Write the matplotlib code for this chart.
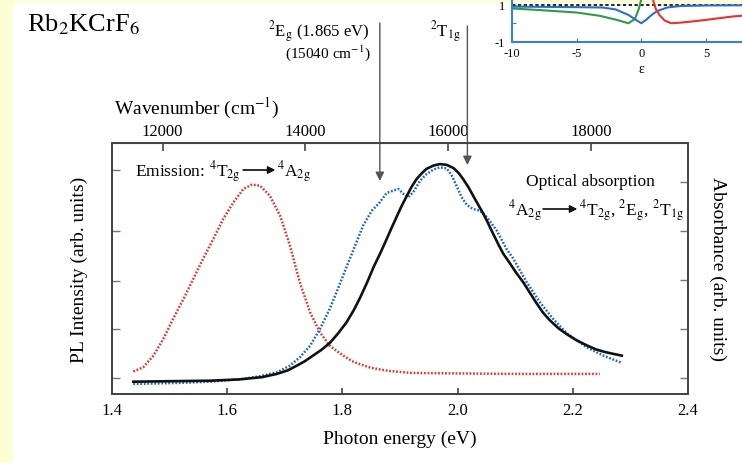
import numpy as np
import matplotlib
matplotlib.use("Agg")
from matplotlib import pyplot as plt
from matplotlib.patches import Rectangle

plt.rcParams['font.family'] = ['Liberation Serif', 'DejaVu Serif']
plt.rcParams['mathtext.fontset'] = 'stix'
plt.rcParams['axes.unicode_minus'] = False

# PL emission (red dots)
pl_energy = [1.437, 1.454, 1.472, 1.489, 1.506, 1.524, 1.541, 1.558, 1.576, 1.593,
             1.611, 1.628, 1.643, 1.657, 1.674, 1.692, 1.709, 1.726, 1.744, 1.761,
             1.778, 1.800, 1.820, 1.850, 1.880, 1.920, 2.000, 2.100, 2.247]
pl_intensity = [0.090, 0.106, 0.153, 0.219, 0.299, 0.378, 0.458, 0.538, 0.618, 0.697,
                0.764, 0.817, 0.834, 0.830, 0.790, 0.710, 0.591, 0.445, 0.325, 0.246,
                0.192, 0.155, 0.127, 0.104, 0.092, 0.084, 0.082, 0.080, 0.080]

# optical absorption (blue dots)
abs_energy = [1.437, 1.512, 1.570, 1.628, 1.657, 1.686, 1.709, 1.726, 1.744, 1.761,
              1.778, 1.792, 1.807, 1.822, 1.836, 1.851, 1.865, 1.877, 1.888, 1.897,
              1.906, 1.914, 1.923, 1.935, 1.946, 1.958, 1.969, 1.981, 1.990, 1.998,
              2.007, 2.016, 2.027, 2.039, 2.051, 2.068, 2.085, 2.097, 2.120, 2.143,
              2.166, 2.189, 2.224, 2.253, 2.285]
absorbance = [0.040, 0.044, 0.049, 0.060, 0.071, 0.086, 0.113, 0.146, 0.192, 0.259,
              0.339, 0.418, 0.505, 0.591, 0.671, 0.730, 0.764, 0.801, 0.810, 0.817,
              0.797, 0.784, 0.804, 0.850, 0.876, 0.894, 0.903, 0.899, 0.870, 0.830,
              0.784, 0.753, 0.737, 0.730, 0.704, 0.651, 0.578, 0.538, 0.445, 0.365,
              0.299, 0.243, 0.186, 0.153, 0.124]

# fitted band (black line)
fit_energy = [1.437, 1.500, 1.570, 1.620, 1.660, 1.686, 1.705, 1.721, 1.735, 1.749,
              1.763, 1.778, 1.792, 1.807, 1.820, 1.831, 1.843, 1.854, 1.866, 1.877,
              1.886, 1.894, 1.903, 1.912, 1.920, 1.929, 1.938, 1.946, 1.958, 1.969,
              1.981, 1.993, 2.002, 2.010, 2.019, 2.027, 2.036, 2.045, 2.053, 2.062,
              2.071, 2.079, 2.091, 2.102, 2.114, 2.125, 2.137, 2.148, 2.160, 2.175,
              2.189, 2.205, 2.224, 2.240, 2.253, 2.270, 2.285]
fit_absorbance = [0.049, 0.051, 0.053, 0.058, 0.067, 0.080, 0.094, 0.113, 0.131, 0.153,
                  0.175, 0.203, 0.240, 0.285, 0.335, 0.385, 0.445, 0.505, 0.562, 0.618,
                  0.665, 0.705, 0.750, 0.790, 0.825, 0.857, 0.880, 0.897, 0.910, 0.916,
                  0.913, 0.900, 0.880, 0.855, 0.823, 0.790, 0.753, 0.717, 0.680, 0.637,
                  0.595, 0.560, 0.520, 0.482, 0.445, 0.405, 0.362, 0.325, 0.294, 0.262,
                  0.239, 0.216, 0.194, 0.178, 0.169, 0.160, 0.153]

x_ticks = [1.4, 1.6, 1.8, 2.0, 2.2, 2.4]
wn_ticks = [12000, 14000, 16000, 18000]
pl_ticks = [0.064, 0.259, 0.450, 0.649, 0.892]
abs_ticks = [0.064, 0.259, 0.454, 0.649, 0.845]
level_eg = 1.865
level_t1g = 2.017

# inset: eps vs ratio
eps_green = [-10, -7.85, -5, -3.2, -1.9, -1.0, -0.5, -0.2, 0.0]
val_green = [0.80, 0.71, 0.58, 0.40, 0.18, 0.0, 0.22, 0.76, 1.30]
eps_blue = [-10, -5, -3, -2, -1.5, -1.0, -0.5, 0.0, 0.4, 0.8, 1.2, 2, 3, 5, 10]
val_blue = [0.90, 0.87, 0.85, 0.75, 0.60, 0.45, 0.22, 0.0, 0.20, 0.45, 0.65, 0.85, 0.93, 0.96, 0.98]
eps_red = [0.9, 1.1, 1.4, 1.8, 2.3, 3, 4, 5, 6, 7, 8, 10]
val_red = [1.30, 0.80, 0.45, 0.15, 0.0, 0.03, 0.10, 0.18, 0.27, 0.36, 0.42, 0.52]

W, H = 742, 464
def fx(px):
    return px / W
def fy(py):
    return 1 - py / H

fig = plt.figure(figsize=(7.42, 4.64), dpi=100)
fig.patch.set_facecolor('#fefed6')
fig.add_artist(Rectangle((fx(13), 0), 1, fy(4), transform=fig.transFigure,
                         facecolor='white', edgecolor='none', zorder=-10))

spine_c = '#444444'
ax = fig.add_axes([fx(112), fy(395), (688 - 112) / W, (395 - 144) / H])
ax.patch.set_alpha(0)
ax2 = ax.twinx()

ax.plot(pl_energy, pl_intensity, color='#e8332c', lw=1.8, dashes=(0.7, 0.7))
ax2.plot(abs_energy, absorbance, color='#1d63c4', lw=1.8, dashes=(0.7, 0.7))
ax2.plot(fit_energy, fit_absorbance, color='#111111', lw=1.9)

for a in (ax, ax2):
    a.set_xlim(1.4, 2.4)
    a.set_ylim(0, 1)
    for s in a.spines.values():
        s.set_color(spine_c)
        s.set_linewidth(1.3)

ax.set_xticks(x_ticks)
ax.set_xticklabels(['%.1f' % v for v in x_ticks])
ax.set_yticks(pl_ticks)
ax.set_yticklabels([])
ax2.set_yticks(abs_ticks)
ax2.set_yticklabels([])
ax.tick_params(axis='x', direction='in', length=4, width=1.2, color=spine_c,
               labelsize=12, pad=6)
ax.tick_params(axis='y', direction='in', length=6, width=1.0, color='#777777')
ax2.tick_params(axis='y', direction='in', length=6, width=1.0, color='#777777')

ev_per_wn = 1.23984e-4
top = ax.secondary_xaxis('top', functions=(lambda e: e / ev_per_wn, lambda n: n * ev_per_wn))
top.set_xticks(wn_ticks)
top.tick_params(direction='in', length=6, width=1.2, color=spine_c, labelsize=12, pad=3)
top.spines['top'].set_color(spine_c)

ax.set_xlabel('Photon energy (eV)', fontsize=14, labelpad=8)
ax.set_ylabel('PL Intensity (arb. units)', fontsize=14, labelpad=14)
ax2.set_ylabel('Absorbance (arb. units)', fontsize=14, rotation=270, labelpad=24)

fig.text(fx(114), fy(114), 'Wavenumber (cm$^{\\mathrm{-1}}$)', fontsize=14, va='baseline')
fig.text(fx(27), fy(31), 'Rb$_{\\mathrm{2}}$KCrF$_{\\mathrm{6}}$', fontsize=19, va='baseline')

# level markers
fig.text(fx(369), fy(37), '$^{\\mathrm{2}}$E$_{\\mathrm{g}}$ (1.865 eV)', fontsize=12,
         ha='right', va='baseline')
fig.text(fx(371), fy(58), '(15040 cm$^{\\mathrm{-1}}$)', fontsize=11, ha='right', va='baseline')
fig.text(fx(430), fy(37), '$^{\\mathrm{2}}$T$_{\\mathrm{1g}}$', fontsize=12, va='baseline')
arrow_kw = dict(arrowstyle='-|>', color='#555555', lw=1.0, mutation_scale=13,
                shrinkA=0, shrinkB=0)
ax.annotate('', xy=(level_eg, (395 - 182) / 251), xytext=(level_eg, fy(24)),
            textcoords=('data', 'figure fraction'), arrowprops=arrow_kw, annotation_clip=False)
ax.annotate('', xy=(level_t1g, (395 - 166) / 251), xytext=(level_t1g, fy(27)),
            textcoords=('data', 'figure fraction'), arrowprops=arrow_kw, annotation_clip=False)

# emission label
fig.text(fx(135), fy(177), 'Emission: $^{\\mathrm{4}}$T$_{\\mathrm{2g}}$', fontsize=12.5, va='baseline')
fig.text(fx(277), fy(177), '$^{\\mathrm{4}}$A$_{\\mathrm{2g}}$', fontsize=12.5, va='baseline')
small_arrow = dict(arrowstyle='-|>', color='#111111', lw=0.9, mutation_scale=11,
                   shrinkA=0, shrinkB=0)
fig.add_artist(plt.annotate('', xy=(fx(275), fy(171)), xytext=(fx(243), fy(171)),
                            xycoords='figure fraction', arrowprops=small_arrow))

# absorption label
fig.text(fx(590), fy(186), 'Optical absorption', fontsize=12.5, ha='center', va='baseline')
fig.text(fx(508), fy(216), '$^{\\mathrm{4}}$A$_{\\mathrm{2g}}$', fontsize=12.5, va='baseline')
fig.text(fx(579), fy(216),
         '$^{\\mathrm{4}}$T$_{\\mathrm{2g}}$, $^{\\mathrm{2}}$E$_{\\mathrm{g}}$, $^{\\mathrm{2}}$T$_{\\mathrm{1g}}$',
         fontsize=12.5, va='baseline')
fig.add_artist(plt.annotate('', xy=(fx(577), fy(210)), xytext=(fx(543), fy(210)),
                            xycoords='figure fraction', arrowprops=small_arrow))

# inset (cut by the figure edge)
in_c = '#3d7fd6'
axin = fig.add_axes([fx(512), fy(42.7), 258.6 / W, 42.5 / H])
axin.patch.set_alpha(0)
axin.set_xlim(-10, 10)
axin.set_ylim(-1, 1.3)
axin.axhline(1, color='black', lw=1.2, ls=(0, (2, 1.5)))
axin.plot(eps_green, val_green, color='#2e9a4a', lw=1.5)
axin.plot(eps_blue, val_blue, color='#2a6fcc', lw=1.5)
axin.plot(eps_red, val_red, color='#e8332c', lw=1.5)
for k in ('top', 'right'):
    axin.spines[k].set_visible(False)
for k in ('left', 'bottom'):
    axin.spines[k].set_color(in_c)
    axin.spines[k].set_linewidth(1.5)
axin.set_xticks([-10, -5, 0, 5])
axin.set_yticks([-1, 0, 1])
axin.set_yticklabels(['-1', '', '1'])
axin.tick_params(axis='x', direction='in', length=3, color=in_c, labelsize=9, pad=4)
axin.tick_params(axis='y', direction='in', length=3, color=in_c, labelsize=9, pad=5)
axin.set_xlabel('ε', fontsize=10, labelpad=2)

fig.savefig('out.png', dpi=100, facecolor=fig.get_facecolor())
